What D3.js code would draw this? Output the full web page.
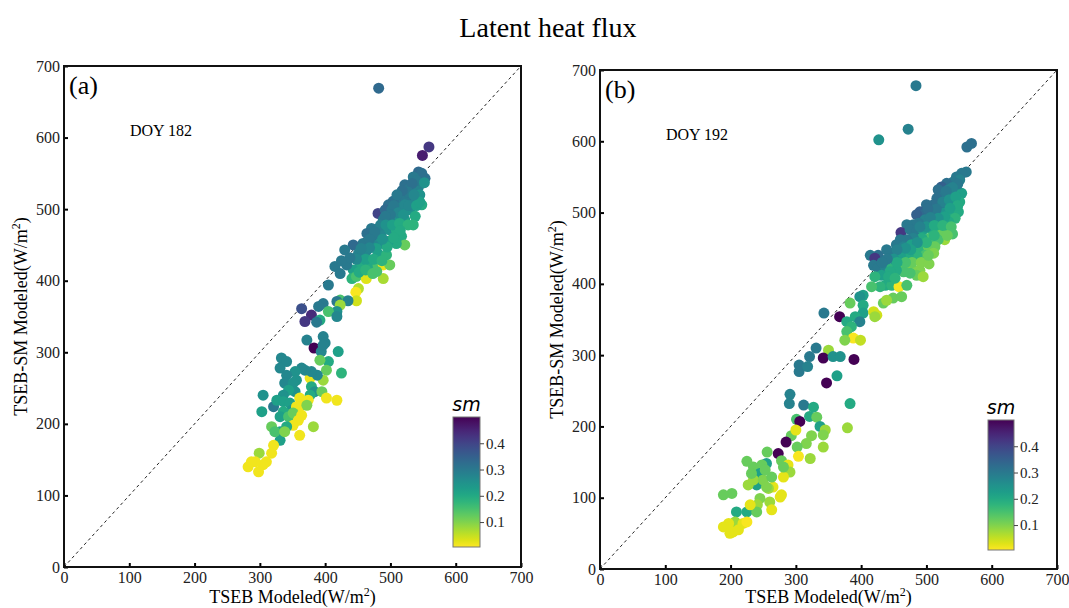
<!DOCTYPE html>
<html>
<head>
<meta charset="utf-8">
<script src="https://cdn.jsdelivr.net/npm/d3@7"></script>
<style>
  body { margin: 0; background: #fff; }
  svg { font-family: "Liberation Serif", "Times New Roman", serif; }
</style>
</head>
<body>
<div id="chart"></div>
<script>
// ---- data ----
var axisTicks = [0, 100, 200, 300, 400, 500, 600, 700];
var smTicks = [0.1, 0.2, 0.3, 0.4];
var smDomain = [0.005, 0.5];
var panelLabels = ["(a)", "(b)"];
var doyLabels = ["DOY 182", "DOY 192"];

// [TSEB, TSEB-SM, sm]  DOY 182
var pointsA = [
  [482,669,0.33],[559,587,0.42],[549,575,0.46],[553,543,0.32],[543,552,0.33],[548,550,0.32],
  [535,545,0.30],[522,534,0.32],[530,529,0.30],[543,531,0.28],[545,520,0.25],[548,506,0.20],
  [538,513,0.27],[525,518,0.30],[515,513,0.30],[504,511,0.32],[497,506,0.32],[481,494,0.40],
  [492,499,0.33],[502,499,0.30],[512,501,0.28],[522,506,0.27],[530,499,0.25],[538,490,0.20],
  [535,478,0.18],[522,485,0.22],[509,487,0.25],[499,483,0.28],[489,485,0.30],[481,473,0.30],
  [471,473,0.30],[464,466,0.32],[474,462,0.30],[486,466,0.27],[499,471,0.25],[509,471,0.20],
  [517,462,0.20],[522,450,0.12],[509,452,0.20],[497,455,0.22],[484,452,0.25],[474,450,0.27],
  [458,452,0.30],[443,450,0.33],[430,443,0.30],[451,438,0.28],[463,441,0.27],[481,438,0.22],
  [494,436,0.18],[456,427,0.25],[469,420,0.20],[481,422,0.15],[489,422,0.02],[499,422,0.12],
  [453,420,0.20],[443,415,0.22],[415,420,0.30],[423,410,0.30],[433,422,0.30],[441,403,0.18],
  [448,406,0.15],[463,403,0.03],[489,403,0.07],[479,413,0.15],[405,394,0.30],[451,389,0.06],
  [447,384,0.01],[448,372,0.04],[423,373,0.15],[435,372,0.28],[418,371,0.30],[397,368,0.30],
  [390,364,0.30],[423,366,0.08],[418,357,0.25],[405,357,0.15],[364,361,0.38],[379,352,0.44],
  [369,343,0.42],[392,345,0.20],[397,322,0.28],[372,317,0.28],[400,313,0.28],[383,306,0.50],
  [394,301,0.27],[420,301,0.22],[418,350,0.27],[387,342,0.30],[397,310,0.28],[405,287,0.20],
  [392,289,0.12],[425,271,0.18],[402,275,0.12],[397,261,0.08],[377,264,0.02],[388,268,0.27],
  [379,273,0.27],[369,275,0.27],[364,278,0.27],[354,273,0.25],[356,261,0.25],[333,292,0.27],
  [341,287,0.27],[331,278,0.27],[341,268,0.27],[338,257,0.27],[351,257,0.25],[354,245,0.25],
  [344,247,0.22],[336,240,0.25],[379,252,0.20],[384,245,0.25],[395,245,0.12],[402,236,0.015],
  [418,233,0.015],[377,240,0.20],[374,233,0.015],[361,236,0.015],[305,240,0.25],[303,217,0.22],
  [321,224,0.30],[326,233,0.22],[336,231,0.22],[346,229,0.22],[349,219,0.25],[356,224,0.015],
  [364,226,0.015],[372,226,0.10],[336,217,0.20],[331,210,0.22],[344,210,0.15],[351,215,0.12],
  [364,212,0.015],[359,205,0.015],[351,198,0.015],[361,184,0.015],[341,196,0.20],[331,189,0.22],
  [331,177,0.22],[318,196,0.12],[323,189,0.15],[338,189,0.10],[382,196,0.08],[321,170,0.015],
  [318,159,0.015],[310,147,0.015],[305,143,0.015],[299,159,0.08],[293,147,0.015],[282,140,0.015],
  [298,133,0.015],[287,147,0.015],
  [540,540,0.30],[533,536,0.32],[527,524,0.30],[518,526,0.32],[510,520,0.30],[505,505,0.30],
  [512,495,0.27],[520,492,0.25],[528,505,0.27],[540,505,0.22],[545,510,0.22],[536,520,0.27],
  [500,492,0.30],[492,490,0.30],[485,478,0.28],[476,468,0.30],[468,458,0.30],[493,478,0.25],
  [503,478,0.22],[514,480,0.20],[527,478,0.18],[515,470,0.20],[505,460,0.20],[495,447,0.20],
  [488,458,0.25],[478,445,0.22],[468,446,0.27],[455,445,0.28],[462,430,0.22],[474,430,0.20],
  [487,428,0.18],[448,430,0.27],[438,432,0.30],[425,428,0.30],[452,412,0.20],[462,415,0.18],
  [473,410,0.15],[552,537,0.25]
];

// [TSEB, TSEB-SM, sm]  DOY 192
var pointsB = [
  [484,678,0.30],[472,617,0.28],[427,602,0.25],[562,592,0.32],[569,597,0.32],
  [561,557,0.30],[554,555,0.30],[546,550,0.30],[551,546,0.28],[541,543,0.30],[531,541,0.32],
  [523,536,0.35],[518,532,0.32],[534,532,0.28],[546,532,0.25],[554,527,0.22],[539,525,0.27],
  [526,522,0.30],[516,520,0.32],[551,515,0.20],[541,513,0.25],[531,511,0.28],[521,508,0.30],
  [511,511,0.32],[500,511,0.32],[505,501,0.30],[490,501,0.35],[495,497,0.33],[485,497,0.35],
  [513,497,0.27],[526,499,0.25],[539,501,0.20],[549,501,0.20],[544,492,0.18],[534,487,0.20],
  [521,485,0.22],[508,487,0.20],[498,490,0.28],[488,485,0.30],[480,483,0.30],[470,483,0.30],
  [461,472,0.42],[475,476,0.30],[485,473,0.30],[495,476,0.22],[508,476,0.20],[518,473,0.18],
  [531,476,0.20],[523,469,0.12],[528,462,0.08],[518,462,0.15],[505,464,0.15],[493,464,0.20],
  [480,464,0.28],[470,462,0.30],[460,462,0.30],[454,455,0.30],[465,452,0.28],[477,455,0.22],
  [490,452,0.18],[503,452,0.12],[513,452,0.12],[511,443,0.10],[498,440,0.15],[485,440,0.18],
  [472,440,0.20],[460,440,0.22],[447,443,0.30],[439,448,0.30],[426,440,0.32],[414,440,0.30],
  [421,436,0.42],[419,426,0.30],[426,422,0.30],[437,424,0.28],[447,422,0.18],[460,422,0.12],
  [470,422,0.12],[480,419,0.10],[490,419,0.10],[485,412,0.12],[475,415,0.15],[465,417,0.15],
  [454,419,0.20],[444,417,0.20],[431,412,0.22],[421,410,0.18],[437,398,0.20],[447,398,0.18],
  [458,396,0.01],[470,398,0.15],[429,396,0.18],[416,396,0.15],[403,384,0.22],[398,382,0.25],
  [383,373,0.12],[434,373,0.12],[449,380,0.12],[462,382,0.12],[439,377,0.08],[403,370,0.20],
  [403,359,0.22],[391,354,0.20],[398,347,0.28],[419,361,0.04],[424,356,0.04],[421,354,0.08],
  [343,359,0.30],[367,354,0.50],[378,347,0.20],[385,340,0.18],[378,333,0.15],[388,324,0.01],
  [399,321,0.05],[375,321,0.10],[350,307,0.08],[342,296,0.50],[357,298,0.25],[368,298,0.25],
  [389,294,0.50],[331,310,0.30],[321,298,0.30],[305,286,0.30],[305,277,0.30],[318,284,0.28],
  [347,261,0.50],[363,271,0.22],[291,245,0.28],[290,232,0.28],[312,230,0.30],[327,227,0.20],
  [383,232,0.20],[301,210,0.15],[306,207,0.50],[321,214,0.20],[332,213,0.12],[337,200,0.22],
  [345,195,0.08],[342,188,0.10],[379,198,0.08],[293,187,0.12],[285,178,0.50],[273,162,0.50],
  [324,187,0.10],[316,176,0.10],[302,171,0.12],[304,158,0.01],[322,155,0.08],[342,171,0.08],
  [256,164,0.12],[278,152,0.12],[288,146,0.025],[291,136,0.08],[281,129,0.025],[265,115,0.025],
  [258,113,0.08],[276,101,0.025],[278,104,0.025],[260,94,0.08],[263,83,0.025],[245,99,0.10],
  [241,90,0.08],[255,148,0.22],[248,146,0.12],[235,143,0.12],[245,134,0.22],[240,118,0.22],
  [227,118,0.08],[235,125,0.08],[250,125,0.10],[255,115,0.10],[263,129,0.12],[253,139,0.12],
  [232,134,0.12],[225,151,0.12],[225,80,0.20],[209,80,0.20],[202,106,0.12],[189,104,0.12],
  [207,66,0.08],[219,64,0.025],[225,66,0.01],[197,64,0.025],[189,59,0.025],[204,52,0.025],
  [199,50,0.025],[212,55,0.025],[240,80,0.12],[230,90,0.025],[300,195,0.025],[281,143,0.12],
  [548,540,0.30],[540,535,0.28],[530,530,0.30],[525,515,0.28],[515,505,0.30],[502,505,0.32],
  [535,518,0.25],[545,522,0.22],[548,510,0.20],[536,506,0.22],[528,494,0.22],[518,492,0.25],
  [506,493,0.28],[500,480,0.25],[490,480,0.28],[512,482,0.20],[525,482,0.18],[538,480,0.15],
  [540,470,0.15],[532,468,0.12],[512,468,0.18],[500,458,0.18],[486,458,0.25],[476,448,0.22],
  [468,450,0.25],[455,448,0.28],[450,435,0.25],[478,430,0.12],[492,430,0.10],[504,428,0.10],
  [468,430,0.15],[455,430,0.20],[440,435,0.30],[432,430,0.30],[442,410,0.20],[452,408,0.18],
  [495,410,0.08],[503,440,0.12]
];

// ---- layout ----
var W = 1069, H = 608;
var panels = [
  {pts: pointsA, x0: 64, x1: 521, y0: 567, y1: 66, cb: {x: 453, y: 417, w: 27, h: 130}, label: panelLabels[0], doy: doyLabels[0]},
  {pts: pointsB, x0: 600, x1: 1057, y0: 569, y1: 70, cb: {x: 988, y: 420, w: 26, h: 130}, label: panelLabels[1], doy: doyLabels[1]}
];
var serif = "'Liberation Serif', 'Times New Roman', serif";

var color = function(v) {
  var t = (v - smDomain[0]) / (smDomain[1] - smDomain[0]);
  t = Math.max(0, Math.min(1, t));
  return d3.interpolateViridis(1 - t);
};

var svg = d3.select("#chart").append("svg")
  .attr("width", W).attr("height", H);

var defs = svg.append("defs");
var grad = defs.append("linearGradient")
  .attr("id", "smgrad")
  .attr("x1", 0).attr("y1", 1).attr("x2", 0).attr("y2", 0);
d3.range(0, 1.0001, 0.05).forEach(function(t) {
  grad.append("stop").attr("offset", t).attr("stop-color", d3.interpolateViridis(1 - t));
});

svg.append("text")
  .attr("x", 548).attr("y", 37)
  .attr("text-anchor", "middle")
  .style("font-size", "28px")
  .text("Latent heat flux");

panels.forEach(function(p, i) {
  var x = d3.scaleLinear().domain([0, 700]).range([p.x0, p.x1]);
  var y = d3.scaleLinear().domain([0, 700]).range([p.y0, p.y1]);
  var g = svg.append("g");

  // 1:1 line
  g.append("line")
    .attr("x1", x(0)).attr("y1", y(0))
    .attr("x2", x(700)).attr("y2", y(700))
    .attr("stroke", "#222").attr("stroke-width", 1)
    .attr("stroke-dasharray", "3,3");

  // points
  g.selectAll("circle.pt")
    .data(p.pts)
    .enter().append("circle")
    .attr("class", "pt")
    .attr("cx", function(d) { return x(d[0]); })
    .attr("cy", function(d) { return y(d[1]); })
    .attr("r", 5.5)
    .attr("fill", function(d) { return color(d[2]); });

  // axes (ticks inside)
  var xAx = g.append("g")
    .attr("transform", "translate(0," + p.y0 + ")")
    .call(d3.axisBottom(x).tickValues(axisTicks).tickSize(-4).tickPadding(5));
  var yAx = g.append("g")
    .attr("transform", "translate(" + p.x0 + ",0)")
    .call(d3.axisLeft(y).tickValues(axisTicks).tickSize(-4).tickPadding(4));
  [xAx, yAx].forEach(function(a) {
    a.select(".domain").remove();
    a.selectAll("line").attr("stroke", "#000").attr("stroke-width", 2);
    a.selectAll("text")
      .style("font-family", serif)
      .style("font-size", "16px")
      .attr("fill", "#222");
  });

  // frame
  g.append("rect")
    .attr("x", p.x0).attr("y", p.y1)
    .attr("width", p.x1 - p.x0).attr("height", p.y0 - p.y1)
    .attr("fill", "none").attr("stroke", "#111").attr("stroke-width", 2);

  // panel label & DOY
  g.append("text")
    .attr("x", p.x0 + 5).attr("y", p.y1 + 28)
    .style("font-size", "26px")
    .text(p.label);
  g.append("text")
    .attr("x", p.x0 + 66).attr("y", p.y1 + 70)
    .style("font-size", "16px")
    .text(p.doy);

  // axis titles
  var xt = g.append("text")
    .attr("x", (p.x0 + p.x1) / 2).attr("y", 603)
    .attr("text-anchor", "middle")
    .style("font-size", "18px");
  xt.append("tspan").text("TSEB Modeled(W/m");
  xt.append("tspan").attr("dy", -7).style("font-size", "12px").text("2");
  xt.append("tspan").attr("dy", 7).text(")");

  var yt = g.append("text")
    .attr("transform", "translate(" + (p.x0 - 37) + "," + ((p.y0 + p.y1) / 2) + ") rotate(-90)")
    .attr("text-anchor", "middle")
    .style("font-size", "18px");
  yt.append("tspan").text("TSEB-SM Modeled(W/m");
  yt.append("tspan").attr("dy", -7).style("font-size", "12px").text("2");
  yt.append("tspan").attr("dy", 7).text(")");

  // colorbar
  var cb = p.cb;
  var cScale = d3.scaleLinear().domain(smDomain).range([cb.y + cb.h, cb.y]);
  g.append("rect")
    .attr("x", cb.x).attr("y", cb.y).attr("width", cb.w).attr("height", cb.h)
    .attr("fill", "url(#smgrad)")
    .attr("stroke", "#777").attr("stroke-width", 1);
  var cAx = g.append("g")
    .attr("transform", "translate(" + (cb.x + cb.w) + ",0)")
    .call(d3.axisRight(cScale).tickValues(smTicks).tickSize(4).tickPadding(2).tickFormat(d3.format(".1f")));
  cAx.select(".domain").remove();
  cAx.selectAll("line").attr("stroke", "#444");
  cAx.selectAll("text")
    .style("font-family", serif)
    .style("font-size", "15px")
    .attr("fill", "#222");
  g.append("text")
    .attr("x", cb.x + cb.w / 2).attr("y", cb.y - 6)
    .attr("text-anchor", "middle")
    .style("font-family", "'DejaVu Sans', sans-serif")
    .style("font-style", "italic")
    .style("font-size", "19px")
    .text("sm");
});
</script>
</body>
</html>
